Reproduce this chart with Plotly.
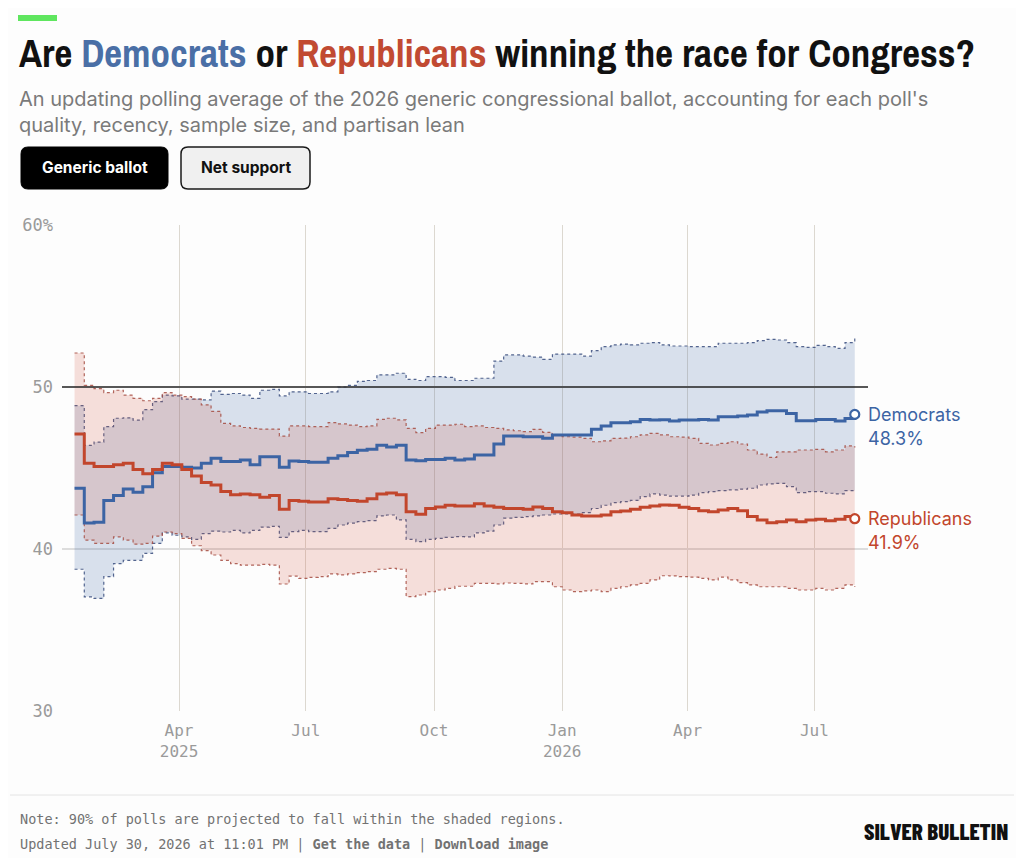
import pandas as pd
import plotly.graph_objects as go

# weekly points, Jan 16 2025 -> Jul 30 2026 (81 values)
dates = pd.date_range("2025-01-16", "2026-07-30", freq="7D")

dem = [43.75, 41.6, 41.65, 43.0, 43.3, 43.7, 43.5, 43.85, 44.7, 45.1,
       45.1, 45.05, 45.0, 45.3, 45.6, 45.4, 45.4, 45.5, 45.2, 45.7,
       45.7, 45.04, 45.43, 45.4, 45.35, 45.35, 45.6, 45.75, 45.95, 46.1,
       46.15, 46.4, 46.3, 46.4, 45.5, 45.45, 45.53, 45.53, 45.6, 45.5,
       45.55, 45.8, 45.8, 46.48, 46.97, 46.97, 46.93, 46.93, 46.83, 47.04,
       47.04, 47.04, 47.04, 47.39, 47.6, 47.8, 47.8, 47.86, 48.0, 47.97,
       47.98, 47.9, 47.96, 47.96, 48.0, 47.96, 48.17, 48.17, 48.21, 48.27,
       48.46, 48.54, 48.54, 48.37, 47.92, 47.92, 48.0, 48.0, 47.9, 48.06,
       48.31]
dem_hi = [48.85, 46.4, 46.6, 47.55, 48.07, 48.1, 47.95, 48.6, 49.1, 49.5,
          49.45, 49.25, 49.25, 49.2, 49.75, 49.55, 49.6, 49.5, 49.3, 49.8,
          49.85, 49.45, 49.7, 49.7, 49.6, 49.6, 49.7, 50.0, 50.1, 50.35,
          50.4, 50.75, 50.75, 50.85, 50.47, 50.4, 50.64, 50.64, 50.6, 50.4,
          50.4, 50.54, 50.54, 51.6, 51.98, 51.98, 51.9, 51.85, 51.7, 52.03,
          52.03, 52.03, 51.9, 52.24, 52.49, 52.6, 52.65, 52.6, 52.7, 52.74,
          52.6, 52.53, 52.53, 52.49, 52.49, 52.49, 52.7, 52.7, 52.7, 52.74,
          52.86, 52.94, 52.9, 52.74, 52.49, 52.45, 52.57, 52.49, 52.38, 52.74,
          53.0]
dem_lo = [38.75, 37.05, 36.95, 38.3, 39.1, 39.3, 39.3, 39.73, 40.35, 41.0,
          40.85, 40.75, 40.6, 40.95, 41.1, 41.05, 41.15, 41.0, 41.15, 41.35,
          41.4, 40.72, 41.07, 41.15, 41.07, 41.07, 41.27, 41.48, 41.6, 41.69,
          41.75, 42.04, 42.1, 41.8, 40.6, 40.45, 40.6, 40.66, 40.72, 40.76,
          40.75, 41.0, 41.1, 41.48, 41.9, 41.95, 42.0, 42.04, 42.1, 42.16,
          42.16, 42.16, 42.24, 42.5, 42.7, 42.86, 42.92, 43.0, 43.23, 43.4,
          43.33, 43.27, 43.27, 43.33, 43.48, 43.54, 43.6, 43.65, 43.69, 43.75,
          43.95, 44.02, 44.05, 43.85, 43.48, 43.54, 43.54, 43.44, 43.4, 43.6,
          43.65]

rep = [47.1, 45.3, 45.1, 45.1, 45.2, 45.3, 44.9, 44.65, 44.9, 45.3,
       45.2, 44.9, 44.5, 44.1, 43.95, 43.55, 43.35, 43.4, 43.35, 43.2,
       43.3, 42.45, 43.0, 42.95, 42.9, 42.9, 43.1, 43.05, 43.0, 42.95,
       43.1, 43.4, 43.45, 43.35, 42.3, 42.15, 42.5, 42.6, 42.7, 42.65,
       42.65, 42.8, 42.65, 42.57, 42.5, 42.5, 42.45, 42.6, 42.5, 42.3,
       42.24, 42.1, 42.04, 42.04, 42.1, 42.3, 42.35, 42.45, 42.57, 42.65,
       42.72, 42.7, 42.57, 42.5, 42.36, 42.3, 42.4, 42.5, 42.36, 42.0,
       41.79, 41.62, 41.68, 41.79, 41.68, 41.79, 41.83, 41.75, 41.83, 42.0,
       41.87]
rep_hi = [52.1, 50.1, 49.9, 49.65, 49.8, 49.5, 49.3, 49.15, 49.3, 49.65,
          49.5, 49.4, 49.25, 48.9, 48.5, 47.75, 47.6, 47.5, 47.45, 47.4,
          47.4, 46.97, 47.6, 47.6, 47.55, 47.55, 47.8, 47.72, 47.65, 47.55,
          47.6, 48.0, 48.07, 47.97, 47.45, 47.18, 47.45, 47.65, 47.65, 47.7,
          47.55, 47.6, 47.5, 47.45, 47.35, 47.3, 47.24, 47.39, 47.2, 47.04,
          46.93, 46.9, 46.83, 46.62, 46.68, 46.83, 46.85, 46.93, 47.04, 47.14,
          47.04, 46.93, 46.9, 46.83, 46.52, 46.42, 46.52, 46.62, 46.48, 46.11,
          45.86, 45.66, 46.0, 46.0, 46.11, 46.11, 46.15, 46.0, 46.11, 46.36,
          46.27]
rep_lo = [42.1, 40.55, 40.35, 40.35, 40.75, 40.55, 40.3, 40.35, 40.8, 41.05,
          40.95, 40.65, 40.2, 39.9, 39.63, 39.3, 39.1, 39.0, 39.0, 39.05,
          39.0, 37.84, 38.33, 38.19, 38.25, 38.3, 38.46, 38.4, 38.46, 38.54,
          38.6, 38.75, 38.8, 38.75, 37.06, 37.16, 37.36, 37.47, 37.57, 37.7,
          37.7, 37.88, 37.88, 37.85, 37.9, 37.88, 37.85, 37.98, 37.98, 37.67,
          37.47, 37.37, 37.42, 37.47, 37.37, 37.57, 37.67, 37.78, 37.88, 38.09,
          38.35, 38.34, 38.3, 38.26, 38.19, 38.09, 38.26, 38.09, 37.92, 37.78,
          37.67, 37.67, 37.67, 37.57, 37.47, 37.47, 37.57, 37.47, 37.57, 37.78,
          37.67]

x_ticks = ["2025-04-01", "2025-07-01", "2025-10-01", "2026-01-01", "2026-04-01", "2026-07-01"]
x_labels = ["Apr<br>2025", "Jul", "Oct", "Jan<br>2026", "Apr", "Jul"]
y_ticks = [30, 40, 50, 60]
y_labels = ["30", "40", "50", "60%"]

DEM = "#3c64a4"
REP = "#c2462c"
BG = "#fdfdfd"
SANS = "Inter, Noto Sans, sans-serif"
MONO = "DejaVu Sans Mono, monospace"
NARROW = "Archivo Narrow, Barlow Condensed, Liberation Sans Narrow, sans-serif"

# page has an 8px body margin, so the figure is 16px smaller than the window
OFF = 8
W, H = 1024 - 2 * OFF, 866 - 2 * OFF
# plot area, in window pixels
L, R, T, B = 62, 868, 225, 711


def px(x):
    return (x - L) / (R - L)


def py(y):
    return (B - y) / (B - T)


def rounded(x0, y0, x1, y1, r):
    # rounded rect path in paper coords, from window-pixel corners
    rx = r / (R - L)
    ry = r / (B - T)
    a, b, c, d = px(x0), py(y1), px(x1), py(y0)
    return (f"M{a+rx},{b} L{c-rx},{b} Q{c},{b} {c},{b+ry} L{c},{d-ry} Q{c},{d} {c-rx},{d} "
            f"L{a+rx},{d} Q{a},{d} {a},{d-ry} L{a},{b+ry} Q{a},{b} {a+rx},{b} Z")


fig = go.Figure()

# -----------------------------
# Shaded 90% bands
# -----------------------------
for lo, hi, edge, fill in [
    (dem_lo, dem_hi, "rgba(55,75,125,0.85)", "rgba(60,100,165,0.19)"),
    (rep_lo, rep_hi, "rgba(165,75,65,0.85)", "rgba(205,70,50,0.17)"),
]:
    fig.add_trace(go.Scatter(x=dates, y=lo, mode="lines", line_shape="hv",
                             line=dict(color=edge, width=1.2, dash="dot"), hoverinfo="skip"))
    fig.add_trace(go.Scatter(x=dates, y=hi, mode="lines", line_shape="hv", fill="tonexty",
                             fillcolor=fill, line=dict(color=edge, width=1.2, dash="dot"),
                             hoverinfo="skip"))

# -----------------------------
# Averages
# -----------------------------
for vals, color in [(dem, DEM), (rep, REP)]:
    fig.add_trace(go.Scatter(x=dates, y=vals, mode="lines", line_shape="hv",
                             line=dict(color=color, width=3)))
    fig.add_trace(go.Scatter(x=[dates[-1]], y=[vals[-1]], mode="markers",
                             marker=dict(size=9, color="white", line=dict(color=color, width=2.2))))

# end labels
for name, vals, color in [("Democrats", dem, DEM), ("Republicans", rep, REP)]:
    fig.add_annotation(x=dates[-1], y=vals[-1], xref="x", yref="y", text=name,
                       xanchor="left", yanchor="middle", xshift=11, showarrow=False,
                       font=dict(family=SANS, size=18, color=color))
    fig.add_annotation(x=dates[-1], y=vals[-1], xref="x", yref="y", text=f"{vals[-1]:.1f}%",
                       xanchor="left", yanchor="middle", xshift=11, yshift=-24, showarrow=False,
                       font=dict(family=SANS, size=18, color=color))

# 50% line
fig.add_shape(type="line", xref="paper", yref="y", x0=0, x1=1, y0=50, y1=50,
              line=dict(color="#2a2a2a", width=1.3))

# -----------------------------
# Header
# -----------------------------
fig.add_shape(type="rect", xref="paper", yref="paper", x0=px(18), x1=px(57), y0=py(21), y1=py(15),
              fillcolor="#5fe65f", line_width=0)
fig.add_annotation(
    xref="paper", yref="paper", x=px(17), y=py(53), xanchor="left", yanchor="middle", showarrow=False,
    text=(f"<b>Are <span style='color:#4a6fa6'>Democrats</span> or "
          f"<span style='color:#c14a32'>Republicans</span> winning the race for Congress?</b>"),
    font=dict(family=NARROW, size=39, color="#111111"))
fig.add_annotation(
    xref="paper", yref="paper", x=px(17), y=py(112), xanchor="left", yanchor="middle", showarrow=False,
    align="left",
    text=("An updating polling average of the 2026 generic congressional ballot, accounting for each poll's"
          "<br>quality, recency, sample size, and partisan lean"),
    font=dict(family=SANS, size=20, color="#7a7a7a"))

# toggle buttons
fig.add_shape(type="path", xref="paper", yref="paper", path=rounded(21, 147, 168, 189, 7),
              fillcolor="#000000", line=dict(color="#000000", width=1))
fig.add_shape(type="path", xref="paper", yref="paper", path=rounded(181, 147, 310, 189, 7),
              fillcolor="#f0f0f0", line=dict(color="#1a1a1a", width=1.5))
fig.add_annotation(xref="paper", yref="paper", x=px(95), y=py(168), xanchor="center", yanchor="middle",
                   text="<b>Generic ballot</b>", showarrow=False,
                   font=dict(family=SANS, size=15.5, color="white"))
fig.add_annotation(xref="paper", yref="paper", x=px(246), y=py(168), xanchor="center", yanchor="middle",
                   text="<b>Net support</b>", showarrow=False,
                   font=dict(family=SANS, size=15.5, color="#111111"))

# -----------------------------
# Footer
# -----------------------------
fig.add_shape(type="line", xref="paper", yref="paper", x0=px(10), x1=px(1014), y0=py(795), y1=py(795),
              line=dict(color="#e4e4e4", width=1))
fig.add_annotation(xref="paper", yref="paper", x=px(18), y=py(819), xanchor="left", yanchor="middle",
                   showarrow=False,
                   text="Note: 90% of polls are projected to fall within the shaded regions.",
                   font=dict(family=MONO, size=13.5, color="#727272"))
fig.add_annotation(xref="paper", yref="paper", x=px(18), y=py(844), xanchor="left", yanchor="middle",
                   showarrow=False,
                   text="Updated July 30, 2026 at 11:01 PM | <b>Get the data</b> | <b>Download image</b>",
                   font=dict(family=MONO, size=13.5, color="#727272"))
fig.add_annotation(xref="paper", yref="paper", x=px(1010), y=py(831), xanchor="right", yanchor="middle",
                   showarrow=False, text="SILVER BULLETIN",
                   font=dict(family="Barlow Condensed, Archivo Narrow, sans-serif", size=23,
                             weight=800, color="#111111"))

# -----------------------------
# Layout
# -----------------------------
fig.update_layout(
    width=W, height=H,
    margin=dict(l=L - OFF, r=W + OFF - R, t=T - OFF, b=H + OFF - B, pad=0),
    paper_bgcolor=BG, plot_bgcolor=BG,
    showlegend=False, hovermode=False,
    xaxis=dict(range=["2025-01-07", "2026-08-08 12:00"], tickvals=x_ticks, ticktext=x_labels,
               showgrid=True, gridcolor="#dcd8d0", gridwidth=1.3, zeroline=False, showline=False,
               ticks="", ticklabelstandoff=8,
               tickfont=dict(family=MONO, size=16, color="#9a9a9a")),
    yaxis=dict(range=[30, 60], tickvals=y_ticks, ticktext=y_labels, showgrid=True,
               gridcolor="#dddddd", gridwidth=1.5, zeroline=False, showline=False, ticks="",
               ticklabelstandoff=8, tickfont=dict(family=MONO, size=17, color="#9a9a9a")),
)

fig.write_html("out.html")
